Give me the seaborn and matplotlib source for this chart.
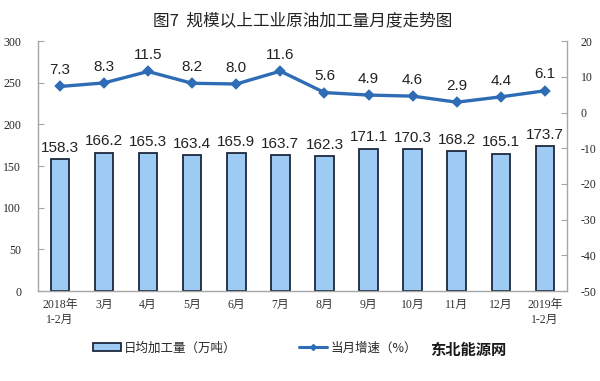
import numpy as np
import pandas as pd
import matplotlib
matplotlib.use('Agg')
import matplotlib.pyplot as plt
import seaborn as sns
from matplotlib.lines import Line2D
from matplotlib.patches import Patch

# data
months = ['2018年\n1-2月', '3月', '4月', '5月', '6月', '7月', '8月', '9月', '10月', '11月', '12月', '2019年\n1-2月']
daily_output = [158.3, 166.2, 165.3, 163.4, 165.9, 163.7, 162.3, 171.1, 170.3, 168.2, 165.1, 173.7]
growth = [7.3, 8.3, 11.5, 8.2, 8.0, 11.6, 5.6, 4.9, 4.6, 2.9, 4.4, 6.1]

left_ticks = [0, 50, 100, 150, 200, 250, 300]
right_ticks = [-50, -40, -30, -20, -10, 0, 10, 20]

bar_fill = '#9dcbf3'
bar_edge = '#1c2a3e'
line_color = '#2e6db5'
axis_gray = '#a6a6a6'

sns.set_style('white')
plt.rcParams['font.family'] = ['Noto Sans CJK SC', 'DejaVu Sans']
plt.rcParams['axes.unicode_minus'] = False
tick_fam = ['Liberation Serif', 'Noto Sans CJK SC']
num_fam = ['Liberation Sans', 'DejaVu Sans']

df = pd.DataFrame({'month': months, 'output': daily_output, 'growth': growth})

fig = plt.figure(figsize=(6, 3.81), dpi=100)
ax = fig.add_axes([0.063, 0.236, 0.882, 0.656])

sns.barplot(data=df, x='month', y='output', ax=ax, color=bar_fill, width=0.42,
            edgecolor=bar_edge, linewidth=1.3, saturation=1)
ax.set_ylim(0, 300)
ax.set_yticks(left_ticks)
ax.set_xlim(-0.5, len(months) - 0.5)
ax.set_xlabel('')
ax.set_ylabel('')

for i, v in enumerate(daily_output):
    ax.text(i, v + 5, f'{v:.1f}', ha='center', va='bottom', fontsize=11,
            family=num_fam, color='#222222')

ax2 = ax.twinx()
sns.pointplot(data=df, x='month', y='growth', ax=ax2, color=line_color,
              markers='D', markersize=4, linewidth=2.4)
ax2.set_ylim(-50, 20)
ax2.set_yticks(right_ticks)
ax2.set_xlim(-0.5, len(months) - 0.5)
ax2.set_ylabel('')
ax2.set_xlabel('')

for i, v in enumerate(growth):
    ax2.text(i, v + 2.6, f'{v:.1f}', ha='center', va='bottom', fontsize=11,
             family=num_fam, color='#222222')

# axes styling
for a in (ax, ax2):
    for s in a.spines.values():
        s.set_visible(False)
ax.spines['left'].set_visible(True)
ax.spines['bottom'].set_visible(True)
ax2.spines['right'].set_visible(True)
for s in (ax.spines['left'], ax.spines['bottom'], ax2.spines['right']):
    s.set_color(axis_gray)
    s.set_linewidth(1)

ax.set_xticks(range(len(months)))
ax.set_xticklabels(months, family=tick_fam, fontsize=8.5, color='#333333', linespacing=1.3)
ax.tick_params(axis='x', length=0, pad=6)
ax.set_xticks(np.arange(-0.5, len(months), 1), minor=True)
ax.tick_params(axis='x', which='minor', direction='in', length=4, color=axis_gray)
ax.tick_params(axis='y', direction='in', length=4, color=axis_gray, labelsize=8.5, pad=12)
for t in ax.get_yticklabels():
    t.set_family(tick_fam)
ax2.tick_params(axis='y', direction='in', length=4, color=axis_gray, labelsize=8.5, pad=10)
for t in ax2.get_yticklabels():
    t.set_family(tick_fam)
ax2.tick_params(axis='x', length=0, labelbottom=False)

fig.text(0.505, 0.945, '图7  规模以上工业原油加工量月度走势图', ha='center', va='center',
         fontsize=12, color='#222222')

handles = [Patch(facecolor=bar_fill, edgecolor=bar_edge, linewidth=1.3),
           Line2D([0], [0], color=line_color, lw=2.2, marker='D', markersize=3)]
fig.legend(handles, ['日均加工量（万吨）', '当月增速（%）'], loc='center',
           bbox_to_anchor=(0.425, 0.087), ncol=2, frameon=False, fontsize=9,
           columnspacing=5, handlelength=2.2, handletextpad=0.3)

fig.text(0.78, 0.081, '东北能源网', ha='center', va='center', fontsize=11,
         color='#1a1a1a', fontweight='bold')

fig.savefig('out.png', dpi=100)
